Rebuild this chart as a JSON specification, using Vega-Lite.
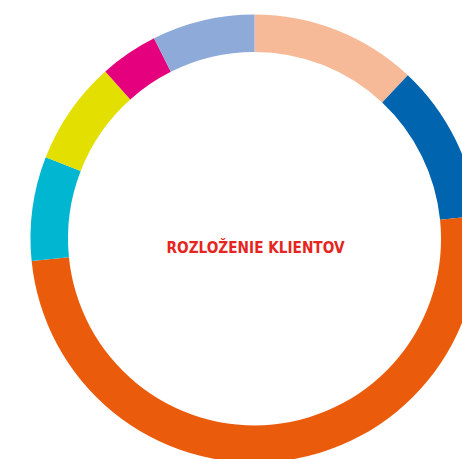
{
  "$schema": "https://vega.github.io/schema/vega-lite/v6.json",
  "autosize": "none",
  "width": 415,
  "height": 441,
  "padding": {"left": 47, "top": 18, "right": 0, "bottom": 0},
  "background": "white",
  "config": {"view": {"stroke": null}},
  "layer": [
    {
      "data": {
        "values": [
          {"segment": "A", "order": 1, "value": 12.0},
          {"segment": "B", "order": 2, "value": 11.4},
          {"segment": "C", "order": 3, "value": 50.0},
          {"segment": "D", "order": 4, "value": 7.5},
          {"segment": "E", "order": 5, "value": 7.5},
          {"segment": "F", "order": 6, "value": 4.2},
          {"segment": "G", "order": 7, "value": 7.4}
        ]
      },
      "mark": {"type": "arc", "innerRadius": 186.5, "outerRadius": 224},
      "encoding": {
        "theta": {"field": "value", "type": "quantitative", "stack": true},
        "order": {"field": "order", "type": "quantitative"},
        "color": {
          "field": "segment",
          "type": "nominal",
          "legend": null,
          "scale": {
            "domain": ["A", "B", "C", "D", "E", "F", "G"],
            "range": ["#F7BA98", "#0064AF", "#EA5B0C", "#00B6D0", "#E3DF00", "#E5007E", "#8DAAD8"]
          }
        }
      }
    },
    {
      "data": {"values": [{"label": "ROZLOŽENIE KLIENTOV"}]},
      "mark": {
        "type": "text",
        "font": "'DejaVu Sans Condensed', Roboto, sans-serif",
        "fontWeight": "bold",
        "fontSize": 15.2,
        "color": "#E52521",
        "baseline": "alphabetic",
        "align": "center",
        "dx": 1,
        "dy": 14
      },
      "encoding": {"text": {"field": "label"}}
    }
  ]
}
